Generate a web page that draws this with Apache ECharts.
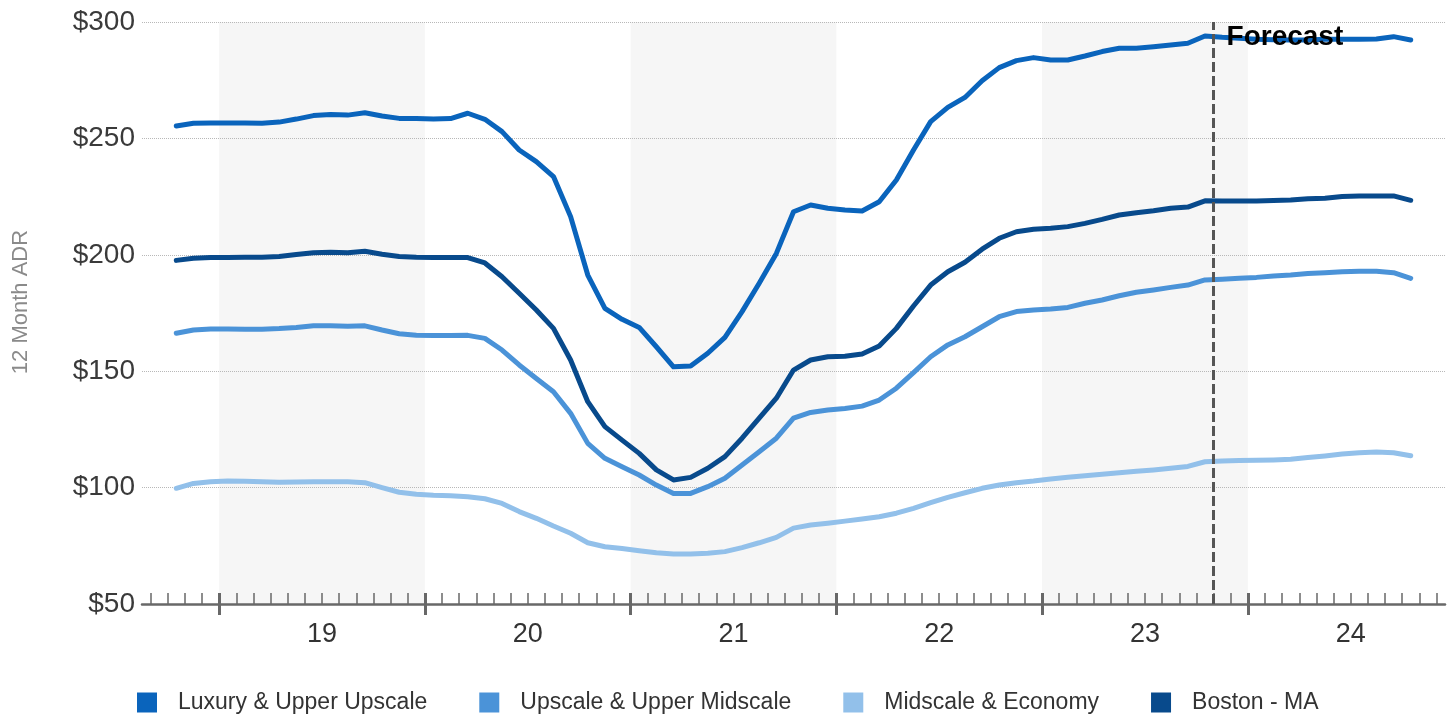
<!DOCTYPE html>
<html><head><meta charset="utf-8">
<script src="https://cdn.jsdelivr.net/npm/echarts@6/dist/echarts.min.js"></script>
<style>html,body{margin:0;padding:0;background:#fff}#c{width:1456px;height:717px}</style>
</head><body><div id="c"></div>
<script>
// Monthly categories: Oct 2018 .. Oct 2024
const months = [];
for (let y = 2018, m = 10; y < 2024 || (y === 2024 && m <= 10);) {
  months.push(y + '-' + String(m).padStart(2, '0'));
  m++; if (m > 12) { m = 1; y++; }
}
const seriesNames = ['Luxury & Upper Upscale', 'Upscale & Upper Midscale', 'Midscale & Economy', 'Boston - MA'];
const luxury = [255.3,256.5,256.6,256.6,256.6,256.5,257,258.3,259.8,260.3,260,261,259.6,258.6,258.5,258.3,258.5,260.8,258.2,252.9,245,240,233.6,216.4,191.3,177,172.3,168.8,160.5,151.9,152.2,157.7,164.5,175.6,187.8,200.6,218.5,221.4,220,219.2,218.8,222.8,232.1,245,257.2,263.3,267.6,274.8,280.4,283.4,284.7,283.7,283.7,285.4,287.3,288.7,288.7,289.4,290.1,290.9,294,293.4,293,292.6,292.4,292.3,292.3,292.6,292.6,292.6,292.7,293.7,292.3];
const upscale = [166.3,167.7,168.1,168.1,168,168,168.3,168.8,169.5,169.5,169.3,169.5,167.7,166.1,165.4,165.3,165.3,165.4,164.1,159.1,152.7,146.9,141.2,131.9,119,112.6,109,105.4,101.1,97.5,97.5,100.4,104,109.7,115.4,121.2,129.8,132.3,133.3,134,135,137.6,142.7,149.4,156.2,161.3,164.8,169.1,173.4,175.6,176.3,176.7,177.4,179.2,180.6,182.4,183.9,184.9,186,187,189.2,189.5,189.9,190.3,190.9,191.3,192,192.3,192.7,192.9,192.9,192.3,189.9];
const midscale = [99.7,101.8,102.5,102.8,102.7,102.5,102.3,102.4,102.5,102.5,102.5,102.1,100,98,97.1,96.7,96.5,96.1,95.2,93.2,89.7,86.8,83.5,80.4,76.3,74.6,73.8,72.9,72,71.5,71.5,71.8,72.5,74.2,76.3,78.6,82.6,83.9,84.7,85.6,86.5,87.5,89,91.1,93.5,95.8,97.8,99.7,101.1,102.1,102.8,103.7,104.4,105.1,105.7,106.4,107,107.6,108.3,109.1,111.1,111.4,111.6,111.7,111.9,112.2,112.9,113.6,114.4,115,115.3,115,113.7];
const boston = [197.6,198.5,198.8,198.8,198.9,198.9,199.3,200.1,200.9,201.1,200.9,201.5,200.2,199.3,198.9,198.8,198.8,198.8,196.5,190.6,183.5,176.3,168.4,154.8,136.9,126.2,120.4,114.7,107.6,103.3,104.4,108.3,113.3,121.2,129.8,138.4,150.5,154.8,156.2,156.4,157.4,160.8,168.4,178,187,192.7,196.8,202.4,207.1,209.9,211,211.4,212.1,213.5,215.2,217.1,218.1,218.9,220,220.5,223.2,223.1,223.1,223.1,223.3,223.5,224.1,224.3,225,225.3,225.3,225.3,223.4];
const yearLabels = ['19', '20', '21', '22', '23', '24'];
const shadedYears = ['2019', '2021', '2023'];
const forecastStart = '2023-11';
const yTicks = [50, 100, 150, 200, 250, 300];

// month position: months since Jan 2019 (value axis); data points sit mid-month
function monthStart(s) { const [y, m] = s.split('-').map(Number); return (y - 2019) * 12 + (m - 1); }
const pos = months.map(s => monthStart(s) + 0.5);
const xMin = pos[0] - 2, xMax = pos[pos.length - 1] + 2;
const yearStarts = yearLabels.map((l, i) => i * 12);
const yearMids = yearLabels.map((l, i) => i * 12 + 6);
const monthTicks = [];
for (let v = Math.ceil(xMin); v <= Math.floor(xMax); v++) monthTicks.push(v);

const colors = ['#0a64bc', '#4b93d8', '#92c0ea', '#084a8c'];
const font = 'Liberation Sans, Arial, sans-serif';
const valsList = [luxury, upscale, midscale, boston];

const series = valsList.map((vals, i) => ({
  name: seriesNames[i], type: 'line', z: 3,
  data: vals.map((v, k) => [pos[k], v]),
  symbol: 'none', smooth: false,
  lineStyle: { width: 5, color: colors[i], cap: 'round', join: 'round' },
  itemStyle: { color: colors[i] }
}));
series.push({
  name: 'bands', type: 'line', data: [], z: 1, silent: true,
  markArea: {
    silent: true,
    itemStyle: { color: '#f6f6f6' },
    data: shadedYears.map(y => [{ xAxis: monthStart(y + '-01') }, { xAxis: monthStart(y + '-01') + 12 }])
  },
  markLine: {
    silent: true, symbol: 'none',
    label: { show: false },
    lineStyle: { color: '#555', width: 3, type: [10, 4] },
    data: [{ xAxis: monthStart(forecastStart) }]
  },
  markPoint: {
    silent: true, symbol: 'circle', symbolSize: 0,
    itemStyle: { color: 'rgba(0,0,0,0)' },
    label: { show: true, formatter: 'Forecast', position: [13, 1], align: 'left', verticalAlign: 'top',
      color: '#000', fontWeight: 'bold', fontSize: 28, fontFamily: font },
    data: [{ coord: [monthStart(forecastStart), yTicks[yTicks.length - 1]] }]
  }
});

const baseX = { type: 'value', min: xMin, max: xMax, position: 'bottom', gridIndex: 0, z: 4, splitLine: { show: false } };
const option = {
  animation: false,
  grid: { left: 142, right: 11, top: 22, bottom: 113, containLabel: false },
  legend: {
    data: seriesNames, left: 132, bottom: -2, itemWidth: 20, itemHeight: 20, itemGap: 52, icon: 'rect',
    textStyle: { fontSize: 23, color: '#333', fontFamily: font, padding: [0, 0, 0, 16] }
  },
  xAxis: [
    Object.assign({}, baseX, {
      axisLine: { show: true, onZero: false, lineStyle: { color: '#686868', width: 2.5 } },
      axisTick: { show: true, inside: false, length: 11, customValues: yearStarts, lineStyle: { color: '#686868', width: 3 } },
      axisLabel: { show: true, customValues: yearMids, margin: 17, fontSize: 27, color: '#333', fontFamily: font,
        formatter: v => yearLabels[Math.round((v - 6) / 12)] }
    }),
    Object.assign({}, baseX, {
      axisLine: { show: false, onZero: false },
      axisTick: { show: true, inside: true, length: 11, customValues: monthTicks, lineStyle: { color: '#686868', width: 1.5 } },
      axisLabel: { show: false }
    }),
    Object.assign({}, baseX, {
      axisLine: { show: false, onZero: false },
      axisTick: { show: true, inside: true, length: 11, customValues: yearStarts, lineStyle: { color: '#686868', width: 3 } },
      axisLabel: { show: false }
    })
  ],
  yAxis: {
    type: 'value', min: yTicks[0], max: yTicks[yTicks.length - 1], interval: 50, z: 2,
    name: '12 Month ADR', nameLocation: 'middle', nameGap: 110, nameRotate: 90,
    nameTextStyle: { fontSize: 22, color: '#8a8a8a', fontFamily: font, padding: [0, 0, 0, 22] },
    axisLine: { show: false }, axisTick: { show: false },
    axisLabel: { formatter: v => '$' + v, fontSize: 28, color: '#3a3a3a', fontFamily: font, margin: 7 },
    splitLine: { show: true, lineStyle: { type: 'dotted', color: '#b8b8b8', width: 1 } }
  },
  series: series
};
const chart = echarts.init(document.getElementById('c'), null, { renderer: 'canvas' });
chart.setOption(option);
</script></body></html>
